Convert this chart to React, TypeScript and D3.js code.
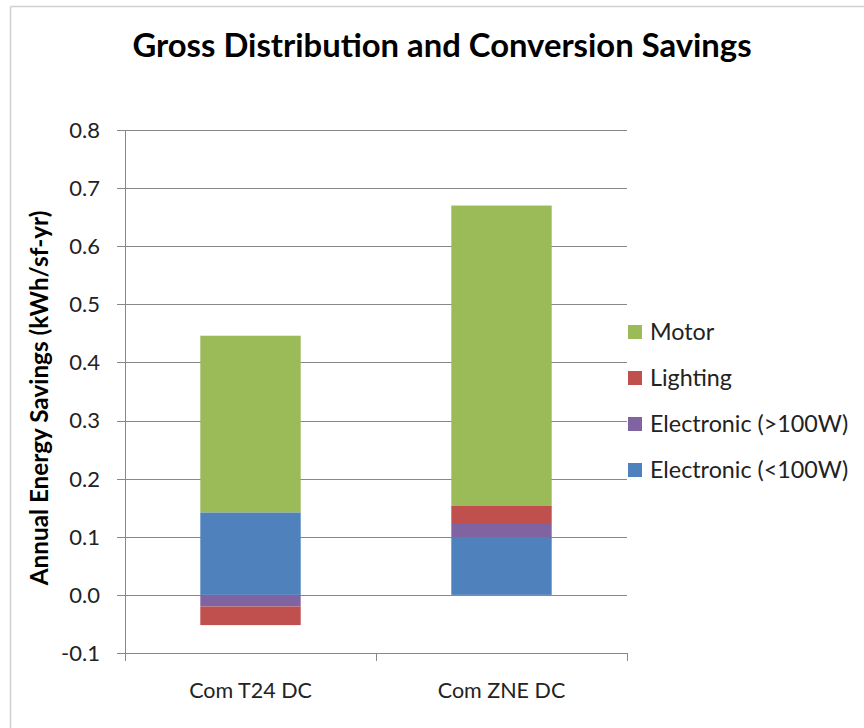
import React from "react";
import * as d3 from "d3";

// Categories and stacked series (kWh/sf-yr)
const categories = ["Com T24 DC", "Com ZNE DC"];
const seriesNames = ["Electronic (<100W)", "Electronic (>100W)", "Lighting", "Motor"];
const electronicSmall = [0.142, 0.099];
const electronicLarge = [-0.02, 0.023];
const lighting = [-0.032, 0.031];
const motor = [0.304, 0.517];
const yTicks = [-0.1, 0.0, 0.1, 0.2, 0.3, 0.4, 0.5, 0.6, 0.7, 0.8];
const legendOrder = ["Motor", "Lighting", "Electronic (>100W)", "Electronic (<100W)"];

const colors: Record<string, string> = {
  "Electronic (<100W)": "#4F81BD",
  "Electronic (>100W)": "#8064A2",
  Lighting: "#C0504D",
  Motor: "#9BBB59",
};

const W = 864;
const H = 728;
const plot = { left: 125, right: 627, top: 130, bottom: 653 };
const FONT = "Lato, 'Open Sans', sans-serif";

const fmt = (t: number) => d3.format(".1f")(t).replace("\u2212", "-");

export default function App() {
  const values = [electronicSmall, electronicLarge, lighting, motor];
  const rows = categories.map((c, i) => {
    const r: Record<string, number | string> = { category: c };
    seriesNames.forEach((s, k) => (r[s] = values[k][i]));
    return r;
  });

  const stack = d3
    .stack<Record<string, number | string>>()
    .keys(seriesNames)
    .value((d, key) => d[key] as number)
    .offset(d3.stackOffsetDiverging);
  const layers = stack(rows);

  const x = d3
    .scaleBand<string>()
    .domain(categories)
    .range([plot.left, plot.right])
    .paddingInner(0.6)
    .paddingOuter(0.3);
  const y = d3.scaleLinear().domain([-0.1, 0.8]).range([plot.bottom, plot.top]);
  const bandStep = (plot.right - plot.left) / categories.length;

  return (
    <svg
      width={W}
      height={H}
      style={{ position: "absolute", left: 0, top: 0, background: "#fff" }}
      fontFamily={FONT}
    >
      {/* chart frame */}
      <line x1={10.5} x2={W} y1={6.5} y2={6.5} stroke="#d0d0d0" strokeWidth={1.5} />
      <line x1={10.5} x2={10.5} y1={6.5} y2={H} stroke="#d0d0d0" strokeWidth={1.5} />

      <text x={442} y={57} textAnchor="middle" fontSize={32.8} fontWeight="bold" fill="#000">
        Gross Distribution and Conversion Savings
      </text>

      {/* gridlines and y ticks */}
      {yTicks.map((t) => (
        <g key={t}>
          <line
            x1={plot.left - 8}
            x2={plot.right}
            y1={Math.round(y(t)) + 0.5}
            y2={Math.round(y(t)) + 0.5}
            stroke="#888"
            strokeWidth={1}
          />
          <text x={100} y={y(t)} dy="0.36em" textAnchor="end" fontSize={22} fill="#222">
            {fmt(t)}
          </text>
        </g>
      ))}

      {/* stacked bars */}
      {layers.map((layer) => (
        <g key={layer.key} fill={colors[layer.key]}>
          {layer.map((d, i) => (
            <rect
              key={i}
              x={x(categories[i])}
              width={x.bandwidth()}
              y={y(Math.max(d[0], d[1]))}
              height={Math.abs(y(d[0]) - y(d[1]))}
            />
          ))}
        </g>
      ))}

      {/* axes */}
      <line x1={plot.left + 0.5} x2={plot.left + 0.5} y1={plot.top} y2={plot.bottom + 8} stroke="#888" />
      {d3.range(categories.length + 1).map((i) => (
        <line
          key={i}
          x1={Math.round(plot.left + i * bandStep) + 0.5}
          x2={Math.round(plot.left + i * bandStep) + 0.5}
          y1={plot.bottom}
          y2={plot.bottom + 8}
          stroke="#888"
        />
      ))}

      {categories.map((c) => (
        <text
          key={c}
          x={(x(c) ?? 0) + x.bandwidth() / 2}
          y={698}
          textAnchor="middle"
          fontSize={21.5}
          fill="#222"
        >
          {c}
        </text>
      ))}

      <text
        transform={`translate(48, 398) rotate(-90)`}
        textAnchor="middle"
        fontSize={24.3}
        fontWeight="bold"
        fill="#000"
      >
        Annual Energy Savings (kWh/sf-yr)
      </text>

      {/* legend */}
      {legendOrder.map((s, i) => (
        <g key={s} transform={`translate(628, ${332 + i * 46})`}>
          <rect x={0} y={-7} width={14} height={14} fill={colors[s]} />
          <text x={22} y={0} dy="0.36em" fontSize={23.3} fill="#222">
            {s}
          </text>
        </g>
      ))}
    </svg>
  );
}
